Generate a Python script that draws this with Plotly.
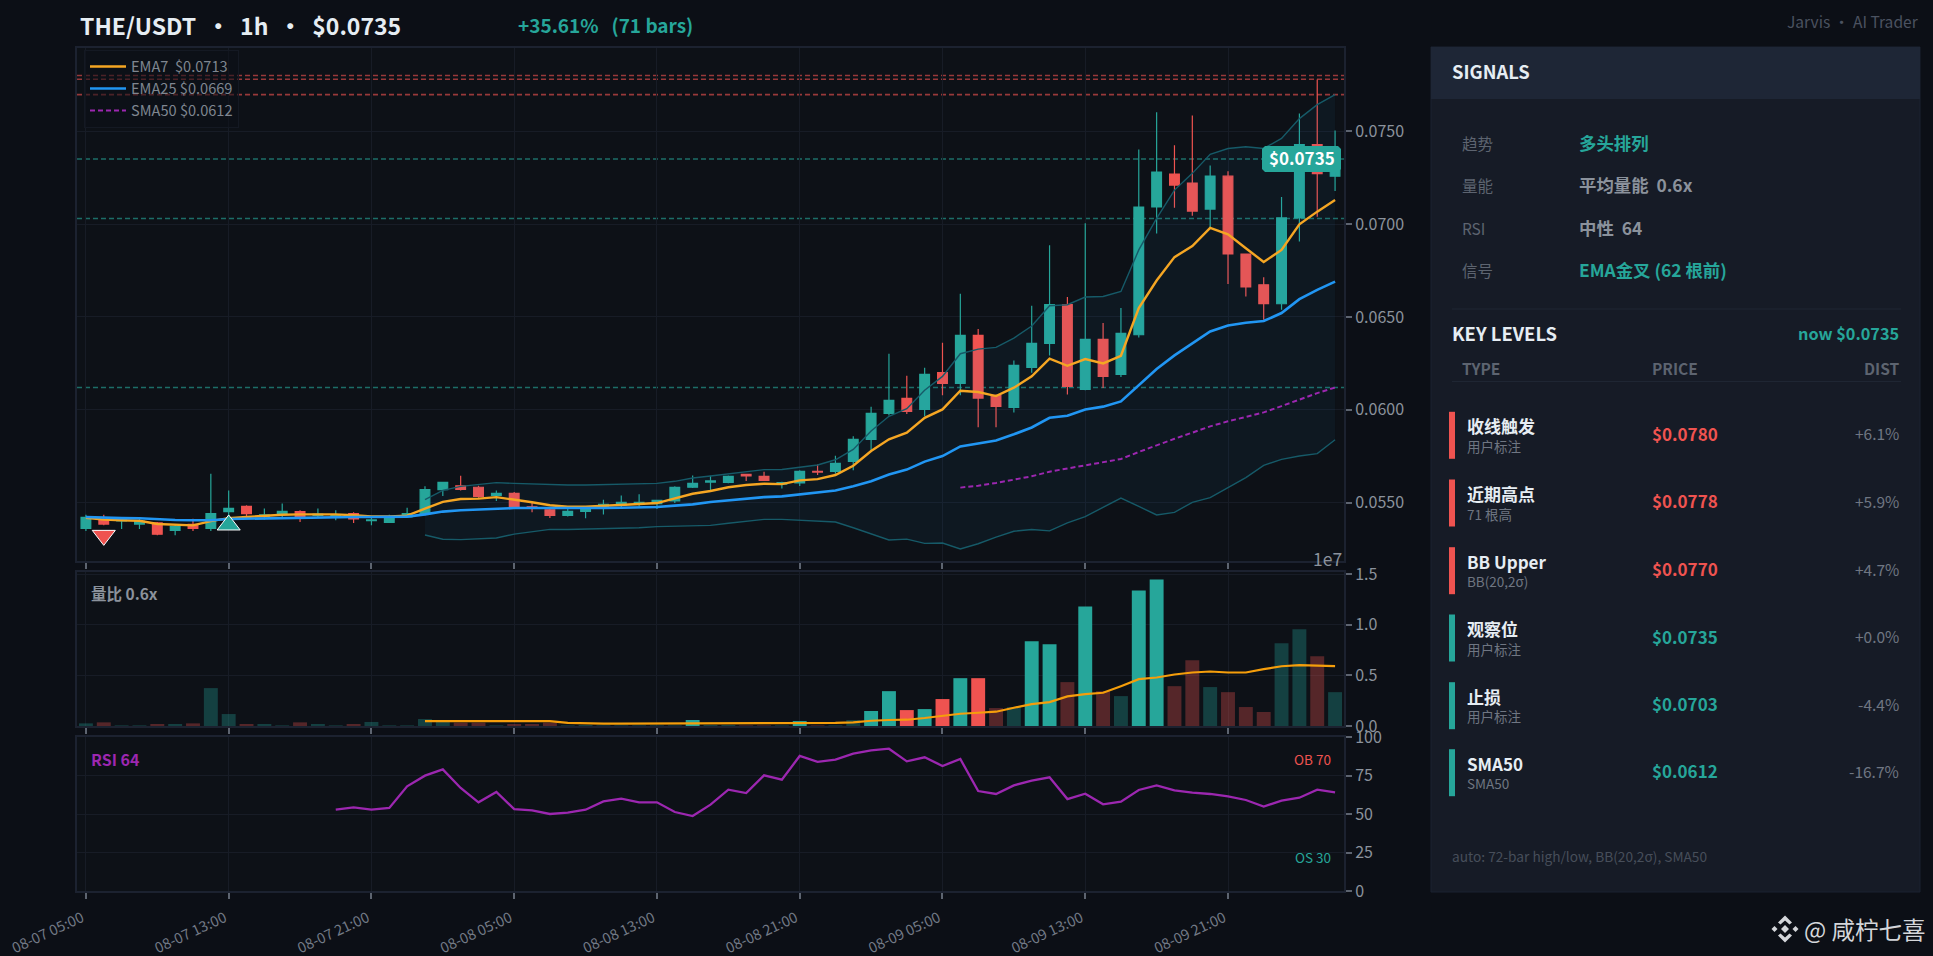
"""THE/USDT 1h candle chart with volume, RSI and a signals side panel."""

import plotly.graph_objects as go
from plotly.subplots import make_subplots

W, H = 1933, 956
FONT = "Noto Sans CJK SC"
UP = "#26a69a"
DOWN = "#ef5350"
GRID = "#171c26"
BORDER = "#1c2230"
TICK = "#8b929c"

bar_index = list(range(71))
tick_vals = [0, 8, 16, 24, 32, 40, 48, 56, 64]
tick_text = ["08-07 05:00", "08-07 13:00", "08-07 21:00", "08-08 05:00", "08-08 13:00",
             "08-08 21:00", "08-09 05:00", "08-09 13:00", "08-09 21:00"]

opens = [.05362, .05410, .05402, .05385, .05391, .05351, .05383, .05362, .05452, .05480,
         .05426, .05441, .05452, .05432, .05426, .05441, .05403, .05394, .05423, .05441,
         .05570, .05591, .05583, .05539, .05550, .05478, .05462, .05432, .05453, .05480,
         .05487, .05491, .05495, .05509, .05583, .05611, .05609, .05652, .05642, .05600,
         .05606, .05669, .05669, .05722, .05841, .05981, .06062, .06002, .06201, .06142,
         .06401, .06078, .06013, .06228, .06358, .06567, .06110, .06379, .06191, .06404,
         .07092, .07269, .07221, .07081, .07258, .06839, .06673, .06571, .07033, .07428,
         .07258]
highs = [.05435, .05435, .05414, .05423, .05396, .05383, .05414, .05656, .05566, .05486,
         .05468, .05495, .05459, .05468, .05459, .05448, .05426, .05435, .05473, .05588,
         .05613, .05645, .05591, .05566, .05557, .05498, .05477, .05477, .05480, .05516,
         .05539, .05545, .05516, .05588, .05647, .05645, .05647, .05656, .05667, .05613,
         .05674, .05705, .05753, .05857, .06017, .06302, .06184, .06227, .06361, .06625,
         .06435, .06082, .06266, .06560, .06886, .06607, .07004, .06467, .06548, .07402,
         .07602, .07425, .07584, .07316, .07285, .06839, .06714, .07146, .07595, .07779,
         .07504]
lows = [.05348, .05378, .05358, .05358, .05324, .05324, .05348, .05348, .05423, .05423,
        .05409, .05414, .05396, .05423, .05405, .05391, .05378, .05391, .05423, .05432,
        .05536, .05566, .05527, .05509, .05473, .05448, .05417, .05426, .05416, .05437,
        .05473, .05480, .05466, .05498, .05579, .05563, .05604, .05617, .05617, .05577,
        .05590, .05649, .05656, .05674, .05778, .05970, .05977, .05966, .06078, .06078,
        .05906, .05906, .05986, .06199, .06293, .06083, .06105, .06117, .06176, .06390,
        .06949, .07088, .07045, .06984, .06678, .06610, .06485, .06539, .06906, .07040,
        .07178]
closes = [.05421, .05385, .05407, .05401, .05330, .05373, .05362, .05441, .05470, .05441,
          .05435, .05453, .05426, .05439, .05434, .05412, .05407, .05423, .05441, .05570,
          .05609, .05572, .05534, .05550, .05480, .05473, .05432, .05453, .05470, .05491,
          .05502, .05502, .05513, .05583, .05604, .05617, .05642, .05644, .05620, .05608,
          .05669, .05665, .05712, .05841, .05981, .06051, .05992, .06191, .06142, .06401,
          .06063, .06018, .06239, .06358, .06567, .06126, .06379, .06180, .06411, .07092,
          .07280, .07210, .07070, .07258, .06839, .06662, .06571, .07033, .07428, .07271,
          .07350]

ema7 = [.05419, .05409, .05405, .05403, .05385, .05382, .05378, .05401, .05417, .05423,
        .05430, .05435, .05437, .05437, .05437, .05432, .05426, .05426, .05430, .05468,
        .05504, .05520, .05522, .05530, .05518, .05502, .05486, .05478, .05478, .05484,
        .05489, .05493, .05498, .05525, .05548, .05563, .05583, .05595, .05602, .05600,
        .05620, .05627, .05649, .05699, .05778, .05841, .05877, .05957, .06002, .06103,
        .06096, .06074, .06119, .06180, .06275, .06237, .06273, .06250, .06291, .06548,
        .06696, .06822, .06882, .06979, .06945, .06870, .06796, .06861, .06999, .07067,
        .07130]
ema25 = [.05423, .05419, .05417, .05416, .05410, .05407, .05405, .05405, .05412, .05414,
         .05416, .05419, .05421, .05423, .05423, .05423, .05423, .05423, .05425, .05437,
         .05452, .05459, .05464, .05470, .05471, .05471, .05470, .05470, .05470, .05471,
         .05473, .05475, .05477, .05484, .05491, .05504, .05513, .05523, .05530, .05534,
         .05545, .05556, .05566, .05588, .05615, .05652, .05678, .05721, .05751, .05803,
         .05821, .05835, .05868, .05905, .05957, .05968, .06002, .06017, .06045, .06131,
         .06220, .06293, .06356, .06422, .06454, .06469, .06478, .06521, .06596, .06646,
         .06690]
sma50 = [.05581, .05591, .05606, .05624, .05642, .05667, .05683, .05701, .05717, .05735,
         .05773, .05810, .05844, .05877, .05911, .05938, .05961, .05986, .06020, .06056,
         .06090, .06120]
bb_upper = [.05516, .05566, .05588, .05597, .05608, .05604, .05600, .05595, .05595, .05595,
            .05597, .05599, .05600, .05604, .05615, .05633, .05644, .05656, .05667, .05678,
            .05679, .05692, .05703, .05731, .05787, .05886, .05965, .06006, .06105, .06180,
            .06302, .06327, .06336, .06386, .06451, .06560, .06566, .06607, .06610, .06637,
            .06861, .07031, .07183, .07273, .07376, .07407, .07416, .07407, .07461, .07568,
            .07643, .07697]
bb_lower = [.05326, .05303, .05301, .05306, .05310, .05331, .05344, .05356, .05356, .05358,
            .05360, .05362, .05365, .05371, .05373, .05373, .05378, .05389, .05400, .05410,
            .05410, .05405, .05401, .05396, .05365, .05330, .05299, .05304, .05281, .05283,
            .05251, .05279, .05315, .05346, .05356, .05348, .05391, .05425, .05473, .05525,
            .05480, .05434, .05448, .05502, .05527, .05581, .05635, .05701, .05733, .05751,
            .05764, .05839]

volume = [.026, .036, .006, .006, .020, .020, .026, .374, .118, .020, .020, .006, .036, .020,
          .006, .020, .040, .006, .006, .069, .040, .033, .033, .006, .020, .020, .033, .006,
          .010, .006, .006, .006, .006, .006, .059, .010, .010, .006, .006, .006, .049, .006,
          .006, .059, .148, .344, .157, .167, .266, .472, .472, .177, .187, .836, .807, .433,
          1.18, .344, .295, 1.338, 1.446, .393, .649, .384, .334, .187, .138, .816, .954, .689,
          .334]
volume_ma = [.049, .049, .049, .049, .049, .049, .049, .049, .030, .023, .023, .023, .023, .023,
             .023, .026, .026, .026, .026, .023, .023, .023, .026, .030, .036, .052, .059, .062,
             .079, .098, .121, .131, .141, .180, .216, .236, .292, .315, .328, .393, .462, .479,
             .508, .528, .538, .528, .528, .561, .590, .600, .593, .590]
rsi = [52.8, 54.3, 52.8, 53.9, 68.0, 74.9, 79.0, 66.9, 57.6, 64.3, 53.2, 52.4, 50.0, 50.9,
       52.8, 58.2, 60.0, 57.6, 57.6, 51.3, 48.7, 56.1, 65.8, 63.6, 75.1, 72.3, 87.7, 83.8,
       85.3, 89.2, 91.3, 92.4, 84.2, 86.8, 81.2, 85.7, 64.9, 63.0, 68.6, 71.6, 73.8, 59.7,
       63.2, 56.3, 58.0, 65.6, 68.6, 65.4, 63.9, 63.0, 61.5, 59.1, 54.8, 58.7, 60.6, 65.8,
       64.1]

resistance_levels = [.0780, .0778, .07697]
support_levels = [.0735, .0703, .0612]

signal_labels = ["趋势", "量能", "RSI", "信号"]
signal_values = ["多头排列", "平均量能\u00a0 0.6x", "中性\u00a0 64", "EMA金叉 (62 根前)"]
signal_colors = [UP, "#8b929c", "#8b929c", UP]

level_names = ["收线触发", "近期高点", "BB Upper", "观察位", "止损", "SMA50"]
level_notes = ["用户标注", "71 根高", "BB(20,2σ)", "用户标注", "用户标注", "SMA50"]
level_prices = ["$0.0780", "$0.0778", "$0.0770", "$0.0735", "$0.0703", "$0.0612"]
level_dists = ["+6.1%", "+5.9%", "+4.7%", "+0.0%", "-4.4%", "-16.7%"]
level_colors = [DOWN, DOWN, DOWN, UP, UP, UP]


def fx(x):
    return x / W


def fy(y):
    return 1 - y / H


def rgba(color, alpha):
    r, g, b = int(color[1:3], 16), int(color[3:5], 16), int(color[5:7], 16)
    return f"rgba({r},{g},{b},{alpha})"


def label(x, y, text, size, color, anchor="left", bold=False):
    fig.add_annotation(
        x=fx(x), y=fy(y), xref="paper", yref="paper", showarrow=False,
        xanchor=anchor, yanchor="middle", borderpad=0,
        text=f"<b>{text}</b>" if bold else text,
        font=dict(family=FONT, size=size, color=color),
    )


def box(x0, y0, x1, y1, fill, line=None):
    fig.add_shape(
        type="rect", xref="paper", yref="paper", layer="below",
        x0=fx(x0), y0=fy(y0), x1=fx(x1), y1=fy(y1), fillcolor=fill,
        line=dict(color=line or fill, width=1 if line else 0),
    )


def path(points, fill):
    d = "M" + " L".join(f"{fx(x):.5f},{fy(y):.5f}" for x, y in points) + " Z"
    fig.add_shape(type="path", xref="paper", yref="paper", path=d,
                  fillcolor=fill, line=dict(width=0))


fig = make_subplots(rows=3, cols=1, shared_xaxes=True)

# Bollinger band sits under everything else
fig.add_trace(go.Scatter(x=bar_index[19:], y=bb_upper, mode="lines", showlegend=False,
                         line=dict(color="#165a68", width=1.4)), row=1, col=1)
fig.add_trace(go.Scatter(x=bar_index[19:], y=bb_lower, mode="lines", showlegend=False,
                         line=dict(color="#165a68", width=1.4), fill="tonexty",
                         fillcolor="rgba(33,150,243,0.05)"), row=1, col=1)

for level in resistance_levels:
    fig.add_hline(y=level, row=1, col=1, layer="below",
                  line=dict(color=rgba(DOWN, 0.62), width=1.6, dash="5px,3px"))
for level in support_levels:
    fig.add_hline(y=level, row=1, col=1, layer="below",
                  line=dict(color=rgba(UP, 0.62), width=1.6, dash="5px,3px"))

fig.add_trace(go.Candlestick(
    x=bar_index, open=opens, high=highs, low=lows, close=closes, showlegend=False,
    increasing=dict(line=dict(color=UP, width=1.2), fillcolor=UP),
    decreasing=dict(line=dict(color=DOWN, width=1.2), fillcolor=DOWN),
), row=1, col=1)

fig.add_trace(go.Scatter(x=bar_index, y=ema7, mode="lines", name="EMA7\u00a0 $0.0713",
                         line=dict(color="#f5a623", width=2.4)), row=1, col=1)
fig.add_trace(go.Scatter(x=bar_index, y=ema25, mode="lines", name="EMA25 $0.0669",
                         line=dict(color="#2196f3", width=2.6)), row=1, col=1)
fig.add_trace(go.Scatter(x=bar_index[49:], y=sma50, mode="lines", name="SMA50 $0.0612",
                         line=dict(color="#9c27b0", width=2, dash="5px,3px")), row=1, col=1)

fig.add_trace(go.Scatter(
    x=[bar_index[1]], y=[.05324], mode="markers", showlegend=False,
    marker=dict(symbol="triangle-down", size=20, color=DOWN, line=dict(color="white", width=1)),
), row=1, col=1)
fig.add_trace(go.Scatter(
    x=[bar_index[8]], y=[.05380], mode="markers", showlegend=False,
    marker=dict(symbol="triangle-up", size=20, color=UP, line=dict(color="white", width=1)),
), row=1, col=1)

# bars more than twice their average stay solid, the rest are dimmed
bar_colors = []
for i, v in enumerate(volume):
    base = UP if closes[i] >= opens[i] else DOWN
    strong = i >= 19 and v > 2 * volume_ma[i - 19]
    bar_colors.append(base if strong else rgba(base, 0.32))
fig.add_trace(go.Bar(x=bar_index, y=volume, width=0.78, marker_color=bar_colors,
                     marker_line_width=0, showlegend=False), row=2, col=1)
fig.add_trace(go.Scatter(x=bar_index[19:], y=volume_ma, mode="lines", showlegend=False,
                         line=dict(color="#f59e0b", width=2.2)), row=2, col=1)

fig.add_hline(y=70, row=3, col=1, layer="below",
              line=dict(color=rgba(DOWN, 0.6), width=1.2, dash="5px,3px"))
fig.add_hline(y=50, row=3, col=1, layer="below",
              line=dict(color="rgba(139,146,156,0.45)", width=1, dash="dot"))
fig.add_hline(y=30, row=3, col=1, layer="below",
              line=dict(color=rgba(UP, 0.6), width=1.2, dash="5px,3px"))
fig.add_trace(go.Scatter(x=bar_index[14:], y=rsi, mode="lines", showlegend=False,
                         line=dict(color="#9c27b0", width=2.3)), row=3, col=1)

axis_style = dict(
    showgrid=True, gridcolor=GRID, gridwidth=1, zeroline=False, automargin=False,
    showline=True, linecolor=BORDER, linewidth=2, mirror=True,
    ticks="outside", ticklen=6, tickwidth=1.5, tickcolor="#5d6470",
)
x_domain = [fx(77), fx(1344)]
for n in (1, 2, 3):
    fig.update_xaxes(
        axis_style, row=n, col=1, domain=x_domain, range=[-0.5, 70.5],
        rangeslider_visible=False, tickmode="array", tickvals=tick_vals, ticktext=tick_text,
        showticklabels=n == 3, tickangle=-25, ticklabelstandoff=5, ticklabelshift=-4,
        tickfont=dict(family=FONT, size=14.6, color="#737a86"),
    )
y_font = dict(family=FONT, size=16, color=TICK)
fig.update_yaxes(axis_style, row=1, col=1, side="right", domain=[fy(561), fy(48)],
                 range=[.05186, .07948], tickmode="array",
                 tickvals=[.055, .060, .065, .070, .075], tickformat=".4f", tickfont=y_font)
fig.update_yaxes(axis_style, row=2, col=1, side="right", domain=[fy(726), fy(572)],
                 range=[0, 1.52], tickmode="array", tickvals=[0, .5, 1, 1.5],
                 tickformat=".1f", tickfont=y_font)
fig.update_yaxes(axis_style, row=3, col=1, side="right", domain=[fy(891), fy(737)],
                 range=[0, 100], tickmode="array", tickvals=[0, 25, 50, 75, 100], tickfont=y_font)

fig.update_layout(
    width=W, height=H, margin=dict(l=0, r=0, t=0, b=0, autoexpand=False),
    paper_bgcolor="#0c0f16", plot_bgcolor="#0d1117", boxgap=0.22, bargap=0.22,
    font=dict(family=FONT, color=TICK),
    legend=dict(
        x=fx(84), y=fy(49.5), xanchor="left", yanchor="top", traceorder="normal",
        bgcolor="rgba(13,17,23,0.55)", bordercolor="#141923", borderwidth=1,
        font=dict(family=FONT, size=14.6, color="#7f8690"), itemwidth=36, tracegroupgap=0,
    ),
)

# side panel
box(1431, 47, 1920, 892, "#161b26", "#1b2230")
box(1431, 47, 1920, 99, "#1e2636")
box(1452, 308.5, 1901, 309.5, "#1f2633")
box(1452, 381, 1901, 382, "#1f2633")
for i, y in enumerate([435.3, 503, 570.7, 638, 705.7, 772.7]):
    box(1449, y - 23.5, 1455, y + 23.5, level_colors[i])
    label(1466, y - 9.5, level_names[i], 17, "#e6edf3", bold=True)
    label(1466, y + 10.5, level_notes[i], 13.5, "#6f7682")
    label(1650.5, y - 2, level_prices[i], 17, level_colors[i], bold=True)
    label(1899.5, y - 2, level_dists[i], 15.5, "#6f7682", anchor="right")
for i, y in enumerate([143, 185, 227.5, 269.5]):
    label(1460.5, y, signal_labels[i], 15.5, "#5d6470")
    label(1577.5, y, signal_values[i], 17.4, signal_colors[i], bold=True)

label(1451, 71, "SIGNALS", 18.4, "#e6edf3", bold=True)
label(1451, 332.5, "KEY LEVELS", 18.4, "#e6edf3", bold=True)
label(1899.5, 333, "now $0.0735", 16.3, UP, anchor="right", bold=True)
label(1460.5, 368, "TYPE", 15.5, "#5d6470", bold=True)
label(1650.5, 368, "PRICE", 15.5, "#5d6470", bold=True)
label(1899.5, 368, "DIST", 15.5, "#5d6470", anchor="right", bold=True)
label(1451, 856, "auto: 72-bar high/low, BB(20,2σ), SMA50", 13.7, "#474e5a")

# header and chart captions
label(79, 25, "THE/USDT\u00a0 ·\u00a0 1h\u00a0 ·\u00a0 $0.0735", 23, "#e6edf3", bold=True)
label(517, 25, "+35.61%\u00a0\u00a0 (71 bars)", 19, UP, bold=True)
label(1919.5, 21, "Jarvis · AI Trader", 15.6, "#4b5260", anchor="right")
label(89.5, 593, "量比 0.6x", 15.5, "#8b929c", bold=True)
label(89.5, 758.5, "RSI 64", 16, "#9c27b0", bold=True)
label(1332, 759, "OB 70", 13.5, DOWN, anchor="right")
label(1332, 857.3, "OS 30", 13.5, UP, anchor="right")
label(1343, 558, "1e7", 17.5, TICK, anchor="right")

# last price tag
box_x0, box_x1, box_y0, box_y1 = 1262, 1341, 146, 172
path([(box_x0 + 3, box_y0), (box_x1 - 3, box_y0), (box_x1, box_y0 + 3), (box_x1, box_y1 - 3),
      (box_x1 - 3, box_y1), (box_x0 + 3, box_y1), (box_x0, box_y1 - 3), (box_x0, box_y0 + 3)], UP)
label(1301.5, 157.5, "$0.0735", 17, "#ffffff", anchor="center", bold=True)

# watermark
LOGO = "#d4d6da"
cx, cy = 1785, 929
path([(cx, cy - 4), (cx + 4, cy), (cx, cy + 4), (cx - 4, cy)], LOGO)
path([(cx - 13.5, cy), (cx - 10.5, cy - 3), (cx - 7.5, cy), (cx - 10.5, cy + 3)], LOGO)
path([(cx + 13.5, cy), (cx + 10.5, cy - 3), (cx + 7.5, cy), (cx + 10.5, cy + 3)], LOGO)
path([(cx, cy - 13.5), (cx + 7, cy - 6.5), (cx + 4.5, cy - 4.5), (cx, cy - 8.5),
      (cx - 4.5, cy - 4.5), (cx - 7, cy - 6.5)], LOGO)
path([(cx, cy + 13.5), (cx + 7, cy + 6.5), (cx + 4.5, cy + 4.5), (cx, cy + 8.5),
      (cx - 4.5, cy + 4.5), (cx - 7, cy + 6.5)], LOGO)
label(1803, 929, "@ 咸柠七喜", 23.5, LOGO)

fig.write_html(
    "out.html",
    config={"displayModeBar": False},
    post_script="document.body.style.margin='0';document.documentElement.style.overflow='hidden';",
)
